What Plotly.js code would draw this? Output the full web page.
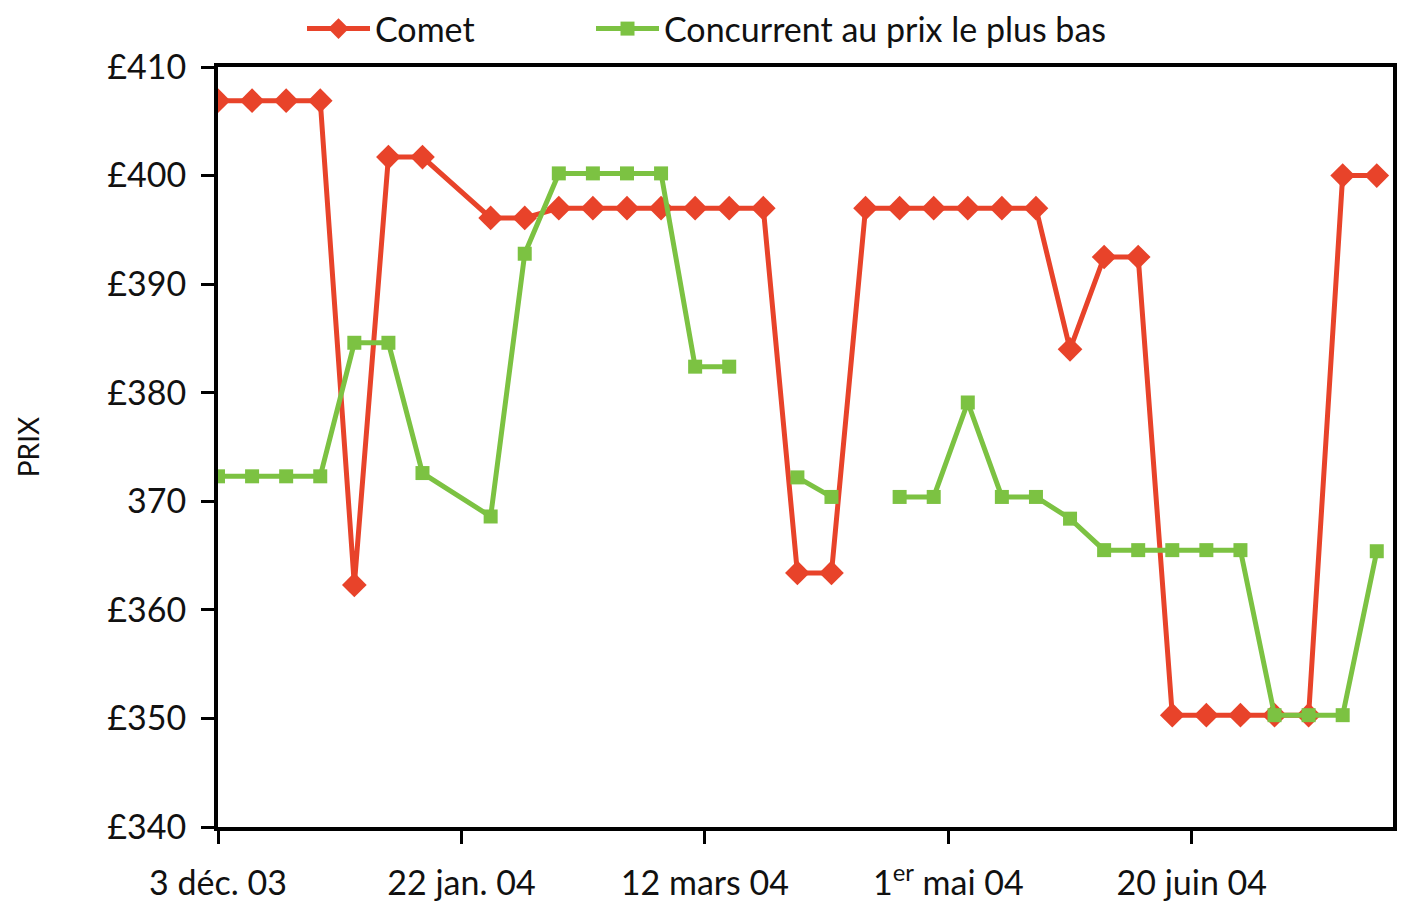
<!DOCTYPE html>
<html>
<head>
<meta charset="utf-8">
<script src="https://cdn.plot.ly/plotly-3.0.1.min.js"></script>
<style>html,body{margin:0;padding:0;background:#fff;}#chart{width:1401px;height:910px;}</style>
</head>
<body>
<div id="chart"></div>
<script>
// Weekly observation dates (21 Jan 2004 has no observation)
const dates = [
  '2003-12-03','2003-12-10','2003-12-17','2003-12-24','2003-12-31',
  '2004-01-07','2004-01-14','2004-01-28','2004-02-04','2004-02-11',
  '2004-02-18','2004-02-25','2004-03-03','2004-03-10','2004-03-17',
  '2004-03-24','2004-03-31','2004-04-07','2004-04-14','2004-04-21',
  '2004-04-28','2004-05-05','2004-05-12','2004-05-19','2004-05-26',
  '2004-06-02','2004-06-09','2004-06-16','2004-06-23','2004-06-30',
  '2004-07-07','2004-07-14','2004-07-21','2004-07-28'
];
const comet = [
  406.9, 406.9, 406.9, 406.9, 362.3,
  401.7, 401.7, 396.1, 396.1, 397.0,
  397.0, 397.0, 397.0, 397.0, 397.0,
  397.0, 363.4, 363.4, 397.0, 397.0,
  397.0, 397.0, 397.0, 397.0, 384.0,
  392.5, 392.5, 350.3, 350.3, 350.3,
  350.3, 350.3, 400.0, 400.0
];
const concurrent = [
  372.3, 372.3, 372.3, 372.3, 384.6,
  384.6, 372.6, 368.6, 392.8, 400.2,
  400.2, 400.2, 400.2, 382.4, 382.4,
  null,  372.2, 370.4, null,  370.4,
  370.4, 379.1, 370.4, 370.4, 368.4,
  365.5, 365.5, 365.5, 365.5, 365.5,
  350.3, 350.3, 350.3, 365.4
];
const seriesNames = ['Comet', 'Concurrent au prix le plus bas'];
const yTickVals = [340, 350, 360, 370, 380, 390, 400, 410];
const yTickText = ['£340', '£350', '£360', '370', '£380', '£390', '£400', '£410'];
const xTickVals = ['2003-12-03', '2004-01-22', '2004-03-12', '2004-05-01', '2004-06-20'];
const xTickText = ['3 déc. 03', '22 jan. 04', '12 mars 04', '1<sup>er</sup> mai 04', '20 juin 04'];

const RED = '#E8432A';
const GREEN = '#7CC242';
const INK = '#111111';
const FONT = 'Lato, "Open Sans", sans-serif';
const FS = 34;

const traces = [
  {
    x: dates, y: comet, name: seriesNames[0], type: 'scatter', mode: 'lines+markers',
    line: {color: RED, width: 5},
    marker: {symbol: 'diamond', size: 19, color: RED},
    connectgaps: false, legend: 'legend'
  },
  {
    x: dates, y: concurrent, name: seriesNames[1], type: 'scatter', mode: 'lines+markers',
    line: {color: GREEN, width: 5},
    marker: {symbol: 'square', size: 14, color: GREEN},
    connectgaps: false, legend: 'legend2'
  }
];

const legendCommon = {
  orientation: 'h', xref: 'container', yref: 'container',
  xanchor: 'left', y: 1, yanchor: 'top',
  font: {family: FONT, size: FS, color: INK},
  bgcolor: 'rgba(0,0,0,0)', itemwidth: 63
};

const layout = {
  width: 1401, height: 910,
  margin: {l: 218, r: 8, t: 67, b: 83},
  paper_bgcolor: '#fff', plot_bgcolor: '#fff',
  font: {family: FONT, size: FS, color: INK},
  showlegend: true,
  legend: Object.assign({}, legendCommon, {x: 302 / 1401}),
  legend2: Object.assign({}, legendCommon, {x: 591 / 1401}),
  xaxis: {
    type: 'date',
    range: ['2003-12-03', '2004-07-31 08:00'],
    tickmode: 'array', tickvals: xTickVals, ticktext: xTickText,
    ticks: 'outside', ticklen: 13, tickwidth: 3, tickcolor: '#000',
    showline: true, linewidth: 4, linecolor: '#000', mirror: true,
    showgrid: false, zeroline: false,
    tickfont: {family: FONT, size: FS, color: INK},
    ticklabelstandoff: 10
  },
  yaxis: {
    range: [340, 410],
    tickmode: 'array', tickvals: yTickVals, ticktext: yTickText,
    ticks: 'outside', ticklen: 13, tickwidth: 3, tickcolor: '#000',
    showline: true, linewidth: 4, linecolor: '#000', mirror: true,
    showgrid: false, zeroline: false,
    tickfont: {family: FONT, size: FS, color: INK},
    ticklabelstandoff: 8,
    title: {text: 'PRIX', font: {family: FONT, size: 28, color: INK}, standoff: 61}
  }
};

Plotly.newPlot('chart', traces, layout, {displayModeBar: false, staticPlot: true});
</script>
</body>
</html>
